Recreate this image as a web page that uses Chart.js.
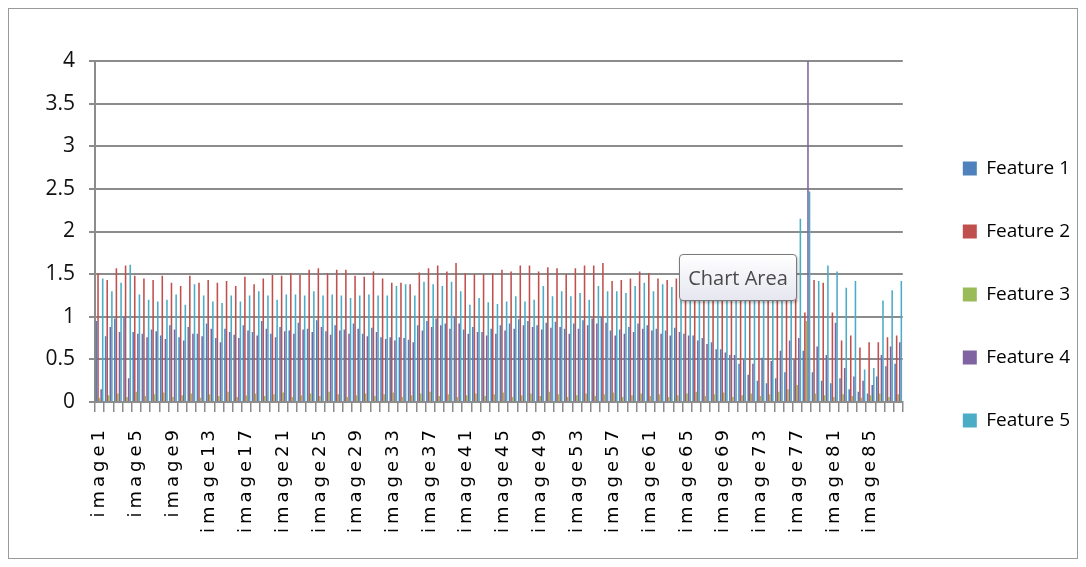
<!DOCTYPE html>
<html>
<head>
<meta charset="utf-8">
<script src="https://cdn.jsdelivr.net/npm/chart.js@4.4.1/dist/chart.umd.min.js"></script>
<style>
  html, body { margin: 0; padding: 0; background: #fff; }
  #wrap { position: relative; width: 1086px; height: 567px; overflow: hidden; }
  #frame { position: absolute; left: 8px; top: 8px; width: 1070px; height: 551px; border: 1px solid #9a9a9a; box-sizing: border-box; pointer-events: none; }
  #tip { position: absolute; left: 679px; top: 254px; width: 118px; height: 47px; box-sizing: border-box;
         border: 1px solid #7a7a7a; border-radius: 4px; background: linear-gradient(#ffffff, #e6e7f0);
         box-shadow: 1px 2px 3px rgba(0,0,0,0.25); font-family: "Open Sans", sans-serif; font-size: 20px;
         color: #4a4a4a; text-align: center; line-height: 45px; }
</style>
</head>
<body>
<div id="wrap">
  <canvas id="c" width="1086" height="567"></canvas>
  <div id="frame"></div>
  <div id="tip">Chart Area</div>
</div>
<script>
const categories = ["image1","image2","image3","image4","image5","image6","image7","image8","image9","image10",
"image11","image12","image13","image14","image15","image16","image17","image18","image19","image20",
"image21","image22","image23","image24","image25","image26","image27","image28","image29","image30",
"image31","image32","image33","image34","image35","image36","image37","image38","image39","image40",
"image41","image42","image43","image44","image45","image46","image47","image48","image49","image50",
"image51","image52","image53","image54","image55","image56","image57","image58","image59","image60",
"image61","image62","image63","image64","image65","image66","image67","image68","image69","image70",
"image71","image72","image73","image74","image75","image76","image77","image78","image79","image80",
"image81","image82","image83","image84","image85","image86","image87","image88"];

const seriesNames = ["Feature 1","Feature 2","Feature 3","Feature 4","Feature 5"];

const feature1 = [0.95,0.77,0.98,1.00,0.82,0.80,0.85,0.78,0.90,0.76,
0.88,0.80,0.92,0.75,0.86,0.79,0.90,0.82,0.95,0.80,
0.88,0.84,0.93,0.86,0.96,0.83,0.90,0.85,0.92,0.80,
0.87,0.76,0.76,0.76,0.73,0.90,0.95,0.98,0.92,1.00,
0.85,0.88,0.82,0.86,0.90,0.92,0.97,0.95,0.90,0.93,
0.94,0.86,0.92,0.96,0.98,1.00,0.84,0.85,0.88,0.92,
0.90,0.86,0.84,0.87,0.80,0.78,0.75,0.70,0.62,0.55,
0.45,0.32,0.25,0.22,0.28,0.35,0.50,0.60,0.35,0.25,
0.22,0.28,0.15,0.12,0.10,0.30,0.42,0.45];

const feature2 = [1.51,1.43,1.57,1.60,1.48,1.45,1.43,1.48,1.40,1.36,
1.48,1.40,1.43,1.40,1.42,1.36,1.47,1.38,1.45,1.49,
1.48,1.51,1.49,1.55,1.57,1.51,1.55,1.55,1.48,1.47,
1.53,1.45,1.40,1.40,1.38,1.52,1.57,1.60,1.53,1.63,
1.51,1.50,1.50,1.51,1.55,1.53,1.60,1.60,1.53,1.58,
1.57,1.50,1.57,1.60,1.60,1.63,1.42,1.43,1.45,1.53,
1.51,1.45,1.43,1.45,1.50,1.48,1.52,1.47,1.50,1.46,
1.49,1.45,1.48,1.44,1.46,1.45,1.45,1.05,1.43,1.40,
1.05,0.72,0.78,0.64,0.70,0.70,0.76,0.78];

const feature3 = [0.05,0.08,0.10,0.06,0.12,0.07,0.09,0.11,0.06,0.08,
0.10,0.05,0.09,0.07,0.12,0.06,0.08,0.10,0.07,0.09,
0.11,0.06,0.08,0.10,0.07,0.12,0.09,0.06,0.08,0.10,
0.07,0.09,0.11,0.06,0.08,0.10,0.12,0.07,0.09,0.06,
0.08,0.10,0.07,0.09,0.11,0.06,0.08,0.10,0.07,0.12,
0.09,0.06,0.08,0.10,0.07,0.09,0.11,0.06,0.08,0.10,
0.07,0.09,0.06,0.08,0.10,0.12,0.07,0.09,0.11,0.06,
0.08,0.10,0.07,0.09,0.12,0.15,0.20,0.95,0.10,0.08,
0.06,0.09,0.07,0.05,0.08,0.10,0.06,0.09];

const feature4 = [0.15,0.88,0.82,0.28,0.80,0.76,0.83,0.74,0.85,0.72,
0.80,0.77,0.86,0.70,0.82,0.75,0.84,0.78,0.86,0.76,
0.83,0.80,0.85,0.82,0.88,0.79,0.84,0.80,0.86,0.77,
0.82,0.74,0.72,0.75,0.70,0.84,0.88,0.90,0.86,0.92,
0.80,0.82,0.78,0.80,0.84,0.86,0.90,0.88,0.85,0.87,
0.88,0.80,0.86,0.90,0.92,0.93,0.78,0.80,0.82,0.86,
0.84,0.80,0.78,0.82,0.78,0.72,0.68,0.62,0.58,0.55,
0.50,0.45,0.52,0.48,0.60,0.72,0.75,4.00,0.65,0.55,
0.93,0.40,0.30,0.25,0.20,0.55,0.65,0.70];

const feature5 = [1.45,1.30,1.40,1.61,1.26,1.20,1.18,1.20,1.26,1.14,
1.38,1.25,1.18,1.16,1.25,1.18,1.25,1.30,1.25,1.20,
1.26,1.26,1.25,1.30,1.25,1.26,1.25,1.22,1.25,1.26,
1.25,1.25,1.36,1.38,1.25,1.41,1.38,1.36,1.41,1.30,
1.14,1.22,1.17,1.15,1.18,1.24,1.18,1.20,1.36,1.24,
1.30,1.24,1.28,1.20,1.36,1.30,1.30,1.28,1.36,1.40,
1.30,1.38,1.35,1.25,1.30,1.32,1.28,1.35,1.30,1.27,
1.33,1.28,1.30,1.26,1.40,1.35,2.15,2.47,1.42,1.60,
1.53,1.34,1.42,0.38,0.40,1.19,1.31,1.42];

const yTicks = [0, 0.5, 1, 1.5, 2, 2.5, 3, 3.5, 4];
const yTickLabels = ["0", "0.5", "1", "1.5", "2", "2.5", "3", "3.5", "4"];
const labelEvery = 4;
const colors = ["#4F81BD","#C0504D","#9BBB59","#8064A2","#4BACC6"];

class SpacedCategoryScale extends Chart.CategoryScale {
  drawLabels(chartArea) {
    const ctx = this.ctx;
    ctx.save();
    try { ctx.letterSpacing = "4px"; } catch (e) {}
    super.drawLabels(chartArea);
    ctx.restore();
  }
}
SpacedCategoryScale.id = "spacedCategory";
SpacedCategoryScale.defaults = Chart.CategoryScale.defaults;
Chart.register(SpacedCategoryScale);

const seriesValues = [feature1, feature2, feature3, feature4, feature5];
const GRID = "#8c8c8c";

new Chart(document.getElementById("c"), {
  type: "bar",
  data: {
    labels: categories,
    datasets: seriesNames.map((n, k) => ({
      label: n,
      data: seriesValues[k],
      backgroundColor: colors[k],
      borderWidth: 0,
      categoryPercentage: 0.85,
      barPercentage: 1.0
    }))
  },
  options: {
    responsive: false,
    animation: false,
    events: [],
    layout: { padding: { left: 0, top: 33, right: 6, bottom: 11 } },
    plugins: {
      tooltip: { enabled: false },
      legend: {
        position: "right",
        labels: {
          boxWidth: 14, boxHeight: 14, padding: 44, color: "#000",
          font: { family: "'Open Sans', sans-serif", size: 19 }
        }
      }
    },
    scales: {
      x: {
        type: "spacedCategory",
        offset: true,
        grid: { display: true, drawOnChartArea: false, drawTicks: true, tickLength: 10, color: GRID, lineWidth: 1.5 },
        border: { display: true, color: GRID, width: 2 },
        ticks: {
          autoSkip: false, maxRotation: 90, minRotation: 90, padding: 14, color: "#000",
          font: { family: "'DejaVu Sans', sans-serif", size: 18 },
          callback: (v, i) => (i % labelEvery === 0 ? categories[i] : "")
        },
        afterFit: (s) => { s.height = 154; }
      },
      xTop: {
        position: "top",
        display: true,
        grid: { display: false, drawTicks: false },
        border: { display: false },
        ticks: { display: false },
        afterFit: (s) => { s.height = 28; }
      },
      y: {
        min: yTicks[0], max: yTicks[yTicks.length - 1],
        afterBuildTicks: (s) => { s.ticks = yTicks.map(v => ({ value: v })); },
        grid: { color: GRID, lineWidth: 2, tickLength: 6, drawTicks: true },
        border: { display: true, color: GRID, width: 2 },
        ticks: {
          padding: 14, color: "#111", font: { family: "'Open Sans', sans-serif", size: 21 },
          callback: (v, i) => yTickLabels[i]
        },
        afterFit: (s) => { s.width = 95; }
      },
      y2: {
        position: "right",
        display: true,
        grid: { display: false, drawTicks: false },
        border: { display: false },
        ticks: { display: false },
        afterFit: (s) => { s.width = 16; }
      }
    }
  }
});
</script>
</body>
</html>
